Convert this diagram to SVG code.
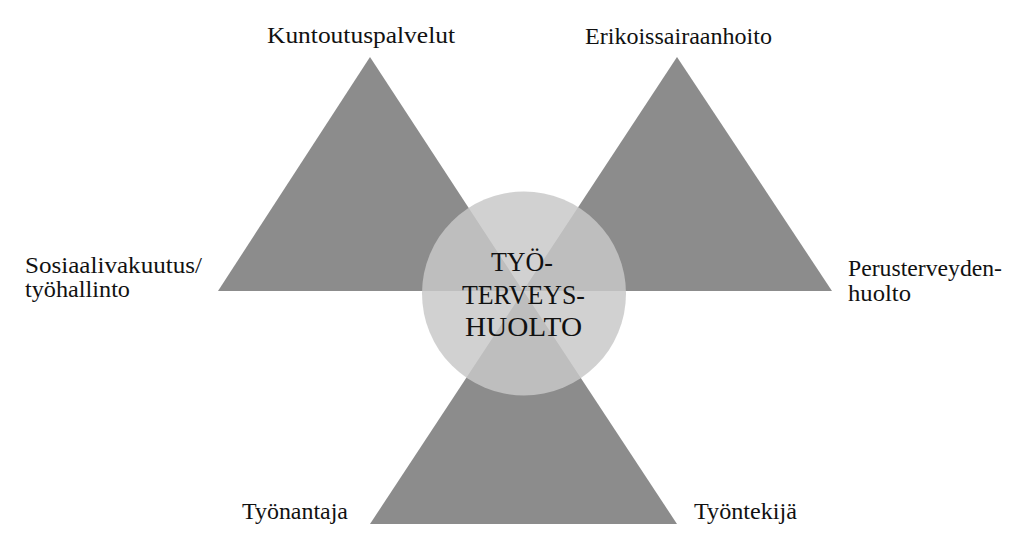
<svg xmlns="http://www.w3.org/2000/svg" width="1024" height="551" viewBox="0 0 1024 551">
<style>
.tri{fill:#8c8c8c}
.lbl{font-family:"Liberation Serif","Times New Roman",serif;font-size:23px;fill:#111}
.ctr{font-family:"Liberation Serif","Times New Roman",serif;font-size:28px;fill:#111}
</style>
<rect width="1024" height="551" fill="#ffffff"/>
<g id="connectors"></g>
<g id="tri-left"><polygon class="tri" points="370,57 218,291 523,291"/></g>
<g id="tri-right"><polygon class="tri" points="677,57 523,291 832,291"/></g>
<g id="tri-bottom"><polygon class="tri" points="523.5,291 370,524 677,524"/></g>
<g id="center">
<circle cx="524" cy="293.5" r="102" fill="#c8c8c8" fill-opacity="0.83"/>
<text class="ctr" x="491" y="271" textLength="62" lengthAdjust="spacingAndGlyphs">TYÖ-</text>
<text class="ctr" x="462" y="304" textLength="123" lengthAdjust="spacingAndGlyphs">TERVEYS-</text>
<text class="ctr" x="465" y="336" textLength="117" lengthAdjust="spacingAndGlyphs">HUOLTO</text>
</g>
<g id="label-kuntoutus"><text class="lbl" x="267" y="43" textLength="188" lengthAdjust="spacingAndGlyphs">Kuntoutuspalvelut</text></g>
<g id="label-erikois"><text class="lbl" x="585" y="44" textLength="187" lengthAdjust="spacingAndGlyphs">Erikoissairaanhoito</text></g>
<g id="label-sosiaali">
<text class="lbl" x="25" y="273" textLength="177" lengthAdjust="spacingAndGlyphs">Sosiaalivakuutus/</text>
<text class="lbl" x="25" y="297" textLength="105" lengthAdjust="spacingAndGlyphs">työhallinto</text>
</g>
<g id="label-perus">
<text class="lbl" x="848" y="276" textLength="154" lengthAdjust="spacingAndGlyphs">Perusterveyden-</text>
<text class="lbl" x="848" y="301" textLength="63" lengthAdjust="spacingAndGlyphs">huolto</text>
</g>
<g id="label-tyonantaja"><text class="lbl" x="242" y="519" textLength="106" lengthAdjust="spacingAndGlyphs">Työnantaja</text></g>
<g id="label-tyontekija"><text class="lbl" x="694" y="519" textLength="103" lengthAdjust="spacingAndGlyphs">Työntekijä</text></g>
</svg>
